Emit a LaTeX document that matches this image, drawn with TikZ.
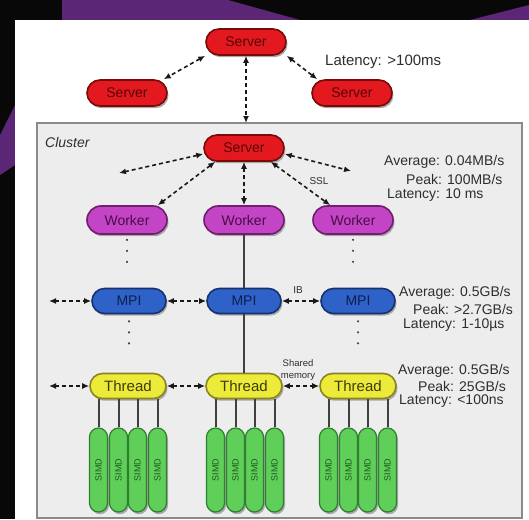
\documentclass[tikz,border=0pt]{standalone}
\usepackage{fontspec}
\setmainfont{Liberation Sans}
\usepackage{graphicx}
\usetikzlibrary{arrows.meta}
\definecolor{bgpurple}{HTML}{5B2675}
\definecolor{srvfill}{HTML}{E3191F}
\definecolor{srvline}{HTML}{7A0A0A}
\definecolor{srvtext}{rgb}{0.33,0.02,0.02}
\definecolor{wrkfill}{HTML}{C444C6}
\definecolor{wrkline}{HTML}{6E1F6E}
\definecolor{wrktext}{rgb}{0.28,0.05,0.28}
\definecolor{mpifill}{HTML}{2E62C9}
\definecolor{mpiline}{HTML}{15316E}
\definecolor{mpitext}{rgb}{0.05,0.12,0.30}
\definecolor{thrfill}{HTML}{EDEB3A}
\definecolor{thrline}{HTML}{8A8420}
\definecolor{thrtext}{HTML}{3E3C0C}
\definecolor{simdfill}{HTML}{5FCF5A}
\definecolor{simdline}{HTML}{2F7F2F}
\definecolor{simdtext}{HTML}{1E5A1E}
\definecolor{clusterfill}{HTML}{EDEDED}
\definecolor{clusterline}{HTML}{8A8A8A}
\definecolor{stattext}{HTML}{2E2E2E}
\definecolor{shadowcol}{HTML}{A8A8A8}
\begin{document}
\begin{tikzpicture}[x=1pt,y=-1pt,
  pillbase/.style={draw, line width=1.6pt, inner sep=0pt,
    preaction={draw=none, fill=shadowcol, transform canvas={xshift=1.5pt, yshift=-2.2pt}}},
  server/.style={pillbase, rounded corners=13pt, fill=srvfill, draw=srvline, minimum width=80pt, minimum height=26pt},
  worker/.style={pillbase, rounded corners=14pt, fill=wrkfill, draw=wrkline, minimum width=80pt, minimum height=28pt},
  mpi/.style={pillbase, rounded corners=12.5pt, fill=mpifill, draw=mpiline, minimum width=74pt, minimum height=25pt},
  thread/.style={pillbase, rounded corners=12.5pt, fill=thrfill, draw=thrline, minimum width=76pt, minimum height=25pt},
  simd/.style={pillbase, rounded corners=9pt, fill=simdfill, draw=simdline, minimum width=18pt, minimum height=84pt, line width=1.2pt},
  lbl/.style={inner sep=0pt, font=\fontsize{14}{14}\selectfont},
  srvlbl/.style={lbl, text=srvtext},
  wrklbl/.style={lbl, text=wrktext},
  mpilbl/.style={lbl, text=mpitext},
  thrlbl/.style={lbl, text=thrtext, font=\fontsize{15}{15}\selectfont},
  simdlbl/.style={inner sep=0pt, text=simdtext, font=\fontsize{9}{9}\selectfont, rotate=90},
  stat/.style={anchor=west, inner sep=0pt, text=stattext, font=\fontsize{14}{14}\selectfont},
  small/.style={inner sep=0pt, text=stattext, font=\fontsize{10}{10}\selectfont},
  arr/.style={{Latex[length=7pt,width=6pt]}-{Latex[length=7pt,width=6pt]}, line width=1.6pt, dash pattern=on 4pt off 3pt, color=black!90},
  dotv/.style={line width=2.4pt, dash pattern=on 0pt off 11pt, line cap=round, color=black!75},
  wire/.style={line width=2pt, color=black!75}
]
\useasboundingbox (0,0) rectangle (529,519);
% background
\fill[black!97] (0,0) rectangle (529,519);
\fill[bgpurple] (62,0) -- (228,0) -- (300,20) -- (62,20) -- cycle;
\fill[bgpurple] (470,20) -- (529,5) -- (529,20) -- cycle;
\fill[bgpurple] (0,135) -- (15,105) -- (15,165) -- (0,175) -- cycle;
\fill[white] (15,20) rectangle (529,519);
% cluster box
\draw[fill=clusterfill, draw=clusterline, line width=1.6pt] (37,123) rectangle (522,518);
\node[anchor=west, inner sep=0pt, text=stattext, font=\fontsize{14}{14}\selectfont\itshape] (cluster) at (45,142) {Cluster};

% servers
\node[server] (ts) at (246,42) {};
\node[server] (ls) at (127,93) {};
\node[server] (rs) at (352,93) {};
\node[stat, font=\fontsize{15}{15}\selectfont] (lat0) at (325,62) {Latency: >100ms};
\coordinate (ctop) at (246,123);

\node[server] (cs) at (244,148) {};
\node[worker] (lw) at (127,220) {};
\node[worker] (mw) at (244,220) {};
\node[worker] (rw) at (353,220) {};

\node[mpi] (lm) at (129,301) {};
\node[mpi] (mm) at (244,301) {};
\node[mpi] (rm) at (358,301) {};

\node[thread] (lt) at (128,386) {};
\node[thread] (mt) at (244,386) {};
\node[thread] (rt) at (358,386) {};

% labels of the boxes
\node[srvlbl] (tsl) at (ts) {Server};
\node[srvlbl] (lsl) at (ls) {Server};
\node[srvlbl] (rsl) at (rs) {Server};
\node[srvlbl] (csl) at (cs) {Server};
\node[wrklbl] (lwl) at (lw) {Worker};
\node[wrklbl] (mwl) at (mw) {Worker};
\node[wrklbl] (rwl) at (rw) {Worker};
\node[mpilbl] (lml) at (lm) {MPI};
\node[mpilbl] (mml) at (mm) {MPI};
\node[mpilbl] (rml) at (rm) {MPI};
\node[thrlbl] (ltl) at (lt) {Thread};
\node[thrlbl] (mtl) at (mt) {Thread};
\node[thrlbl] (rtl) at (rt) {Thread};

\coordinate (cl) at (119,173);
\coordinate (cr) at (351,171);
\coordinate (ml) at (49,301);
\coordinate (tl) at (49,386);

% server level connectors
\draw[arr] (ts.south west) -- ([xshift=-4pt]ls.north east);
\draw[arr] (ts.south east) -- ([xshift=6pt]rs.north west);
\draw[arr] (ts.south) -- (ctop);

% cluster server connectors
\draw[arr] ([yshift=-6pt]cs.west) -- (cl);
\draw[arr] ([yshift=-6pt]cs.east) -- (cr);
\draw[arr] ([xshift=12pt]cs.south west) -- ([xshift=-10pt]lw.north east);
\draw[arr] ([xshift=-14pt]cs.south east) -- ([xshift=18pt]rw.north west);
\draw[arr] (cs.south) -- (mw.north);
\node[small] (ssl) at (319,181) {SSL};

% vertical links
\draw[wire] (mw.south) -- (mm.north);
\draw[wire] (mm.south) -- (mt.north);
\draw[dotv, shorten <=5pt, shorten >=20pt] (lw.south) -- (lw.south |- lm.north);
\draw[dotv, shorten <=5pt, shorten >=20pt] (rw.south) -- (rw.south |- rm.north);
\draw[dotv, shorten <=7pt, shorten >=22pt] (lm.south) -- (lm.south |- lt.north);
\draw[dotv, shorten <=7pt, shorten >=22pt] (rm.south) -- (rm.south |- rt.north);

% MPI connectors
\draw[arr] (ml) -- (lm.west);
\draw[arr] (lm.east) -- (mm.west);
\draw[arr] (mm.east) -- (rm.west);
\node[small] (ib) at (298,290) {IB};

% Thread connectors
\draw[arr] (tl) -- (lt.west);
\draw[arr] (lt.east) -- (mt.west);
\draw[arr] (mt.east) -- (rt.west);
\node[small, align=center, font=\fontsize{9.5}{11.5}\selectfont] (shm) at (298,370) {Shared\\memory};

% SIMD units
\foreach \t/\c in {lt/128, mt/245, rt/358} {
  \foreach \o [count=\i] in {-29.5,-9.5,9.5,29.5} {
    \node[simd] (\t s\i) at ({\c+\o},470) {};
    \node[simdlbl] (\t s\i l) at (\t s\i) {SIMD};
    \draw[wire] (\t s\i.north) -- (\t s\i.north |- \t.south);
  }
}

% statistics
\node[stat] (a1) at (384,162) {Average: 0.04MB/s};
\node[stat] (p1) at (406,179) {Peak: 100MB/s};
\node[stat] (l1) at (387,195) {Latency: 10 ms};
\node[stat] (a2) at (399,293) {Average: 0.5GB/s};
\node[stat] (p2) at (413,309) {Peak: >2.7GB/s};
\node[stat] (l2) at (403,325) {Latency: 1-10µs};
\node[stat] (a3) at (398,371) {Average: 0.5GB/s};
\node[stat] (p3) at (418,386) {Peak: 25GB/s};
\node[stat] (l3) at (399,401) {Latency: <100ns};
\end{tikzpicture}
\end{document}
